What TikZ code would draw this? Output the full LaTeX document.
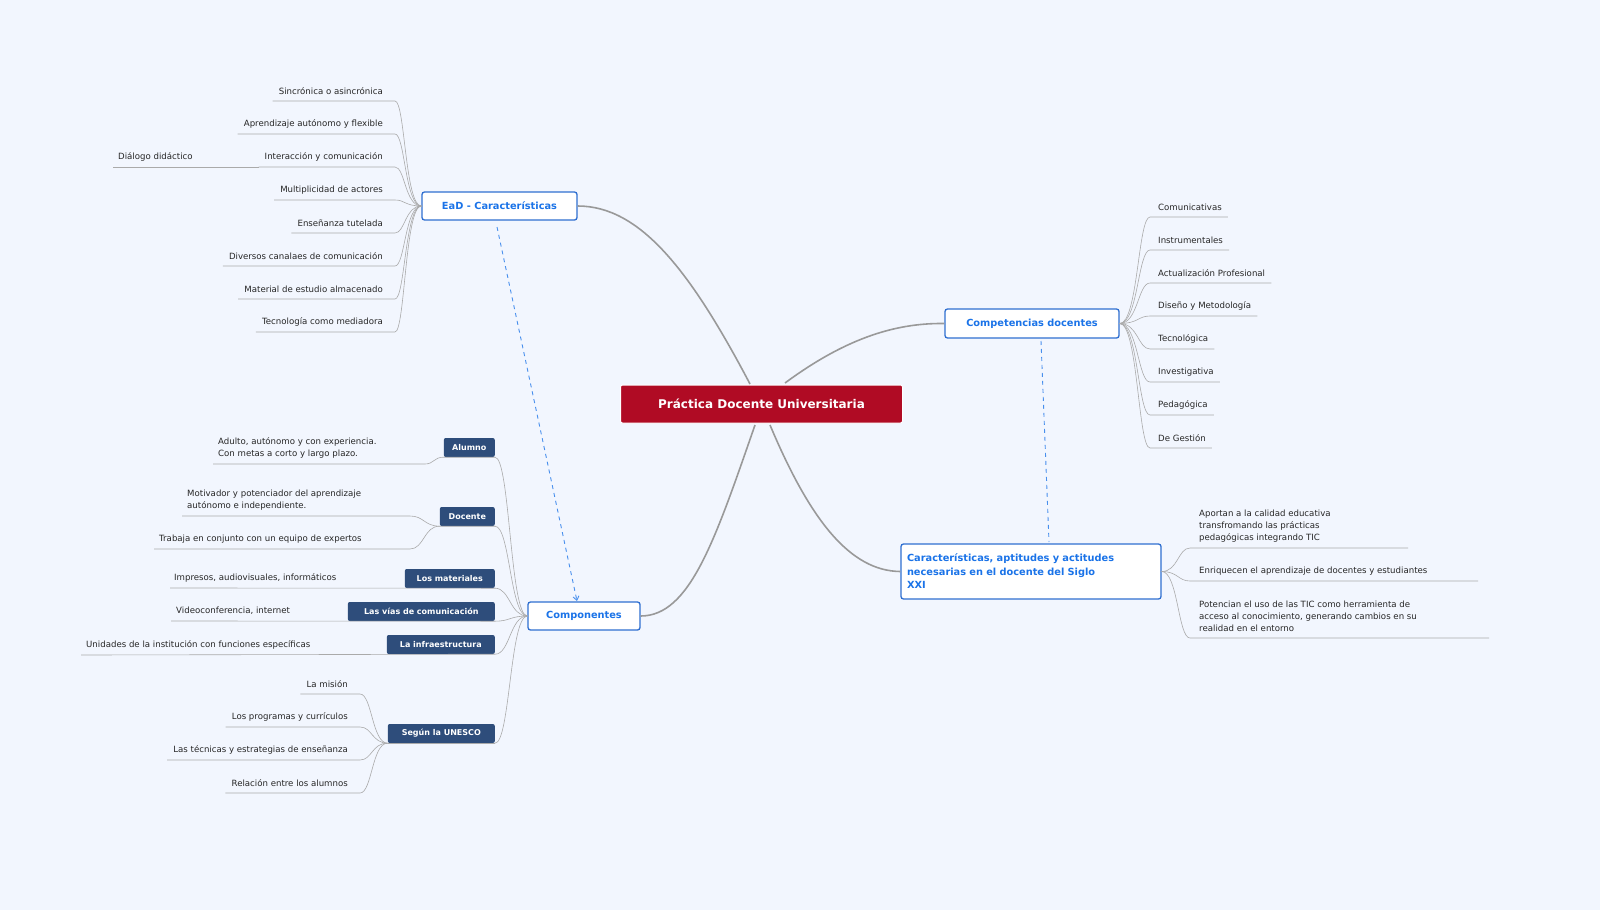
\documentclass[tikz,border=0pt]{standalone}
\usepackage{fontspec}
\setmainfont{DejaVu Sans}
\usetikzlibrary{calc,arrows.meta}
\definecolor{bg}{HTML}{F2F6FE}
\definecolor{blu}{HTML}{1A73E8}
\definecolor{bblue}{HTML}{2F6FD0}
\definecolor{redd}{HTML}{B00B24}
\definecolor{navy}{HTML}{2E4D7B}
\definecolor{gr}{HTML}{AAAAAA}
\tikzset{
 leaf/.style={font=\fontsize{8.6}{12}\selectfont,inner sep=0pt,align=left,text=black!85},
 topic/.style={draw=bblue,line width=1.3pt,fill=white,rounded corners=2.5pt,text=blu,font=\bfseries\fontsize{9.8}{11}\selectfont,inner sep=0pt},
 sub/.style={fill=navy,rounded corners=2pt,text=white,font=\bfseries\fontsize{8}{9}\selectfont,inner sep=0pt},
 ul/.style={draw=gr,line width=0.6pt},
 mainc/.style={draw=gr!90!black,line width=1.6pt},
 dl/.style={draw=blu!80,line width=0.9pt,dash pattern=on 4pt off 4pt}
}
\begin{document}
\begin{tikzpicture}[x=1pt,y=-1pt]
\fill[bg] (0,0) rectangle (1600,910);
\useasboundingbox (0,0) rectangle (1600,910);
% central & topics
\node[fill=redd,draw=white,line width=1pt,rounded corners=2pt,text=white,font=\bfseries\fontsize{12}{13}\selectfont,minimum width=282,minimum height=38] (c) at (761.5,404) {Práctica Docente Universitaria};
\node[topic,minimum width=155,minimum height=28] (ead) at (499.5,206) {EaD - Características};
\node[topic,minimum width=174,minimum height=29] (comp) at (1032,323.5) {Competencias docentes};
\node[topic,minimum width=112,minimum height=28] (cmp) at (584,616) {Componentes};
\node[topic,minimum width=260,minimum height=55,align=left,text width=248,font=\bfseries\fontsize{9.8}{13.5}\selectfont] (car) at (1031,571.5) {Características, aptitudes y actitudes\\necesarias en el docente del Siglo\\XXI};
% main connectors
\draw[mainc] (750,384) .. controls (690,270) and (640,206) .. (ead.east);
\draw[mainc] (785,383) .. controls (850,335) and (900,323) .. (comp.west);
\draw[mainc] (755,425) .. controls (715,540) and (690,616) .. (cmp.east);
\draw[mainc] (770,425) .. controls (810,520) and (850,571) .. (car.west);
% dashed
\draw[dl,-{Straight Barb[length=4pt,width=6pt]}] (497,227) -- (577,601);
\draw[dl] (1041,341) -- (1049,542);
% EaD leaves
\foreach \t/\y [count=\i] in {Sincrónica o asincrónica/91,Aprendizaje autónomo y flexible/124,Interacción y comunicación/157,Multiplicidad de actores/190,Enseñanza tutelada/223,Diversos canalaes de comunicación/256,Material de estudio almacenado/289,Tecnología como mediadora/322}{
 \node[leaf,anchor=east] (e\i) at (383,\y) {\t};
 \draw[ul] ($(e\i.west)+(-6,10)$) -- (395,\y+10) .. controls (405,\y+10) and (405,206) .. (ead.west);
}
\node[leaf,anchor=west] (dd) at (118,157) {Diálogo didáctico};
\draw[ul] ($(dd.west)+(-5,10)$) -- ($(e3.west)+(-6,10)$);
% Competencias leaves
\foreach \t/\y [count=\i] in {Comunicativas/207,Instrumentales/240,Actualización Profesional/273,Diseño y Metodología/306,Tecnológica/339,Investigativa/372,Pedagógica/405,De Gestión/438}{
 \node[leaf,anchor=west] (k\i) at (1158,\y) {\t};
 \draw[ul] ($(k\i.east)+(6,10)$) -- (1150,\y+10) .. controls (1138,\y+10) and (1138,323.5) .. (comp.east);
}
% Caracteristicas leaves
\node[leaf,anchor=west] (r1) at (1199,526) {Aportan a la calidad educativa\\transfromando las prácticas\\pedagógicas integrando TIC};
\draw[ul] (1408,548) -- (1190,548) .. controls (1178,548) and (1178,571.5) .. (car.east);
\node[leaf,anchor=west] (r2) at (1199,571) {Enriquecen el aprendizaje de docentes y estudiantes};
\draw[ul] (1478,581) -- (1190,581) .. controls (1178,581) and (1178,571.5) .. (car.east);
\node[leaf,anchor=west] (r3) at (1199,616) {Potencian el uso de las TIC como herramienta de\\acceso al conocimiento, generando cambios en su\\realidad en el entorno};
\draw[ul] (1489,638) -- (1190,638) .. controls (1178,638) and (1178,571.5) .. (car.east);
% sub nodes
\node[sub,minimum width=51,minimum height=19,anchor=east] (s1) at (495,447.5) {Alumno};
\node[sub,minimum width=55,minimum height=19,anchor=east] (s2) at (495,516.5) {Docente};
\node[sub,minimum width=90,minimum height=19,anchor=east] (s3) at (495,578.5) {Los materiales};
\node[sub,minimum width=147,minimum height=19,anchor=east] (s4) at (495,611.5) {Las vías de comunicación};
\node[sub,minimum width=108,minimum height=19,anchor=east] (s5) at (495,644.5) {La infraestructura};
\node[sub,minimum width=107,minimum height=19,anchor=east] (s6) at (495,733.5) {Según la UNESCO};
\foreach \s in {1,...,6}{
 \draw[ul] (s\s.south east) .. controls ($(s\s.south east)+(15,0)$) and (510,616) .. (cmp.west);
}
% Alumno leaf
\node[leaf,anchor=west] (a1) at (218,448) {Adulto, autónomo y con experiencia.\\Con metas a corto y largo plazo.};
\draw[ul] (213,464) -- (425,464) .. controls (434,464) and (434,457) .. (s1.south west) -- (s1.south east);
% Docente leaves
\node[leaf,anchor=west] (d1) at (187,500) {Motivador y potenciador del aprendizaje\\autónomo e independiente.};
\node[leaf,anchor=west] (d2) at (159,539) {Trabaja en conjunto con un equipo de expertos};
\draw[ul] (182,516) -- (410,516) .. controls (424,516) and (424,526) .. (s2.south west) -- (s2.south east);
\draw[ul] (154,549) -- (410,549) .. controls (424,549) and (424,526) .. (s2.south west);
% single leaves
\node[leaf,anchor=west] (m1) at (174,578) {Impresos, audiovisuales, informáticos};
\draw[ul] (170,588) -- (s3.south east);
\node[leaf,anchor=west] (v1) at (176,611) {Videoconferencia, internet};
\draw[ul] (171,621) -- (s4.south east);
\node[leaf,anchor=west] (i1) at (86,645) {Unidades de la institución con funciones específicas};
\draw[ul] (81,655) -- (s5.south east);
% UNESCO leaves
\foreach \t/\y [count=\i] in {La misión/684,Los programas y currículos/717,Las técnicas y estrategias de enseñanza/750,Relación entre los alumnos/783}{
 \node[leaf,anchor=east] (u\i) at (348,\y) {\t};
 \draw[ul] ($(u\i.west)+(-6,10)$) -- (360,\y+10) .. controls (372,\y+10) and (372,743) .. (s6.south west);
}
\draw[ul] (s6.south west) -- (s6.south east);
\end{tikzpicture}
\end{document}
